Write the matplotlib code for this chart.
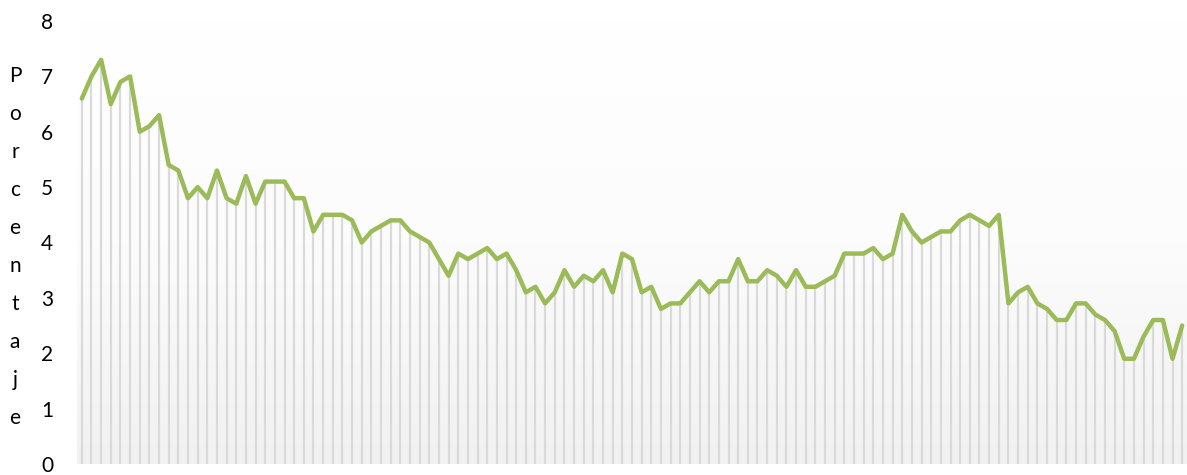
import numpy as np
import matplotlib
matplotlib.use("Agg")
import matplotlib.pyplot as plt
from matplotlib.colors import LinearSegmentedColormap

# Monthly percentage series
porcentaje = [
    6.6, 7.0, 7.3, 6.5, 6.9, 7.0, 6.0, 6.1, 6.3, 5.4, 5.3, 4.8, 5.0, 4.8, 5.3, 4.8, 4.7, 5.2, 4.7, 5.1, 5.1, 5.1, 4.8,
    4.8, 4.2, 4.5, 4.5, 4.5, 4.4, 4.0, 4.2, 4.3, 4.4, 4.4, 4.2, 4.1, 4.0, 3.7, 3.4, 3.8, 3.7, 3.8, 3.9, 3.7, 3.8,
    3.5, 3.1, 3.2, 2.9, 3.1, 3.5, 3.2, 3.4, 3.3, 3.5, 3.1, 3.8, 3.7, 3.1, 3.2, 2.8, 2.9, 2.9, 3.1, 3.3, 3.1, 3.3, 3.3,
    3.7, 3.3, 3.3, 3.5, 3.4, 3.2, 3.5, 3.2, 3.2, 3.3, 3.4, 3.8, 3.8, 3.8, 3.9, 3.7, 3.8, 4.5, 4.2, 4.0, 4.1, 4.2, 4.2, 4.4,
    4.5, 4.4, 4.3, 4.5, 2.9, 3.1, 3.2, 2.9, 2.8, 2.6, 2.6, 2.9, 2.9, 2.7, 2.6, 2.4, 1.9, 1.9, 2.3, 2.6, 2.6, 1.9, 2.5,
]
y_ticks = [0, 1, 2, 3, 4, 5, 6, 7, 8]
y_title = "Porcentaje"

FONT = ["Lato", "DejaVu Sans"]
plt.rcParams["font.family"] = FONT

W, H, DPI = 1187, 475, 100
fig = plt.figure(figsize=(W / DPI, H / DPI), dpi=DPI)
left_px, bottom_px, top_px = 77, 11, 454
ax = fig.add_axes([left_px / W, bottom_px / H, 1 - left_px / W, (top_px - bottom_px) / H])

x = np.arange(len(porcentaje))
vals = np.array(porcentaje)

ax.set_xlim(-0.5, len(porcentaje) - 0.5)
ax.set_ylim(0, 8)

# vertical gradient background (white at top to light gray at bottom)
grad = np.linspace(0, 1, 256).reshape(-1, 1)
cmap = LinearSegmentedColormap.from_list("bg", ["#ffffff", "#fcfcfc", "#f1f1f1"])
ax.imshow(grad, cmap=cmap, aspect="auto", origin="upper",
          extent=[-0.5, len(porcentaje) - 0.5, 0, 8], zorder=0, vmin=0, vmax=1)

# drop lines from each point to the baseline
ax.vlines(x, 0, vals, colors="#dadada", linewidth=1.6, zorder=1)

ax.plot(x, vals, color="#9BBB59", linewidth=3.2, solid_joinstyle="round",
        solid_capstyle="round", zorder=3, clip_on=False)

for s in ax.spines.values():
    s.set_visible(False)
ax.set_xticks([])
ax.set_yticks(y_ticks)
ax.set_yticklabels([str(t) for t in y_ticks])
ax.tick_params(axis="y", length=0, pad=17, labelsize=15, labelcolor="#000000")

# stacked vertical axis title, one letter per line
first_baseline_px, step_px = 82.5, 37.9
for i, ch in enumerate(y_title):
    fig.text(15 / W, 1 - (first_baseline_px + i * step_px) / H, ch,
             ha="center", va="baseline", fontsize=15, color="#000000")

fig.savefig("out.png", dpi=DPI)
